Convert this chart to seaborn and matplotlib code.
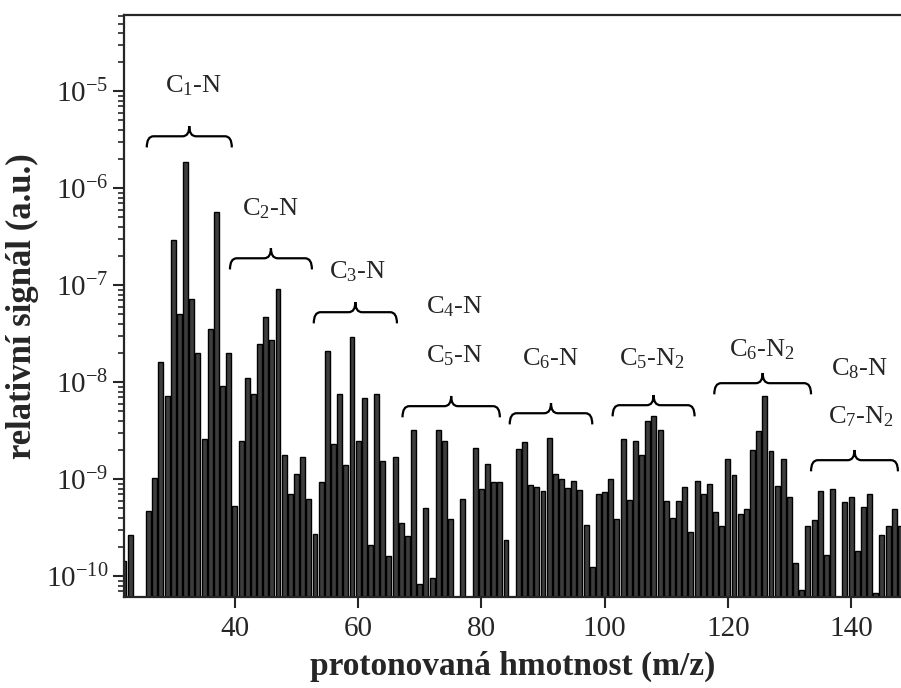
import numpy as np
import pandas as pd
import matplotlib
matplotlib.use('Agg')
import matplotlib.pyplot as plt
from matplotlib.path import Path
from matplotlib.patches import PathPatch
from matplotlib.ticker import FixedLocator, LogLocator, NullFormatter, MultipleLocator
import seaborn as sns

# m/z values and measured relative signal (nan = no bar)
mz = list(range(22, 149))
signal = [
    1.44e-10, 2.65e-10, np.nan, np.nan, 4.7e-10, 1.04e-9, 1.6e-8, 7.2e-9,      # 22-29
    2.9e-7, 5.1e-8, 1.85e-6, 7.2e-8, 2.0e-8, 2.6e-9, 3.5e-8, 5.7e-7,            # 30-37
    9.2e-9, 2.0e-8, 5.3e-10, 2.5e-9, 1.1e-8, 7.6e-9, 2.5e-8, 4.7e-8,            # 38-45
    2.75e-8, 9.2e-8, 1.77e-9, 7.0e-10, 1.13e-9, 1.7e-9, 6.3e-10, 2.75e-10,      # 46-53
    9.4e-10, 2.09e-8, 2.3e-9, 7.5e-9, 1.4e-9, 2.9e-8, 2.5e-9, 6.9e-9,           # 54-61
    2.1e-10, 7.5e-9, 1.55e-9, 1.63e-10, 1.7e-9, 3.5e-10, 2.6e-10, 3.25e-9,      # 62-69
    8.3e-11, 5.0e-10, 9.5e-11, 3.2e-9, 2.5e-9, 3.9e-10, np.nan, 6.2e-10,        # 70-77
    np.nan, 2.1e-9, 7.9e-10, 1.45e-9, 9.3e-10, 9.3e-10, 2.35e-10, np.nan,       # 78-85
    2.05e-9, 2.4e-9, 8.8e-10, 8.3e-10, 7.5e-10, 2.67e-9, 1.13e-9, 1.0e-9,       # 86-93
    8.2e-10, 9.5e-10, 7.7e-10, 3.4e-10, 1.23e-10, 7.1e-10, 7.3e-10, 1.0e-9,     # 94-101
    3.9e-10, 2.6e-9, 6.1e-10, 2.45e-9, 1.78e-9, 4.0e-9, 4.5e-9, 3.25e-9,        # 102-109
    6.0e-10, 4.0e-10, 5.9e-10, 8.3e-10, 2.85e-10, 9.5e-10, 7.1e-10, 9.0e-10,    # 110-117
    4.6e-10, 3.3e-10, 1.63e-9, 1.1e-9, 4.4e-10, 4.9e-10, 2.0e-9, 3.15e-9,       # 118-125
    7.2e-9, 1.93e-9, 8.5e-10, 1.6e-9, 6.6e-10, 1.37e-10, 7.2e-11, 3.3e-10,      # 126-133
    3.8e-10, 7.6e-10, 1.64e-10, 7.9e-10, np.nan, 5.8e-10, 6.5e-10, 1.8e-10,     # 134-141
    5.2e-10, 7.0e-10, 6.7e-11, 2.67e-10, 3.3e-10, 4.9e-10, 3.3e-10,             # 142-148
]

# labelled decades on the y axis
y_decades = [1e-10, 1e-9, 1e-8, 1e-7, 1e-6, 1e-5]

# group labels (text, x, log10 of baseline y)
group_labels = [
    ("C$\\mathregular{_1}$-N", 33.2, -5.01),
    ("C$\\mathregular{_2}$-N", 45.7, -6.28),
    ("C$\\mathregular{_3}$-N", 59.9, -6.93),
    ("C$\\mathregular{_4}$-N", 75.7, -7.29),
    ("C$\\mathregular{_5}$-N", 75.7, -7.80),
    ("C$\\mathregular{_6}$-N", 91.2, -7.83),
    ("C$\\mathregular{_5}$-N$\\mathregular{_2}$", 107.7, -7.83),
    ("C$\\mathregular{_6}$-N$\\mathregular{_2}$", 125.6, -7.73),
    ("C$\\mathregular{_8}$-N", 141.3, -7.93),
    ("C$\\mathregular{_7}$-N$\\mathregular{_2}$", 141.6, -8.42),
]
brace_x1 = [25.7, 39.2, 52.8, 67.2, 84.6, 101.3, 117.8, 133.5]
brace_x2 = [39.5, 52.5, 66.3, 83.0, 98.0, 114.6, 133.5, 147.6]
brace_y = [-5.464, -6.722, -7.278, -8.247, -8.32, -8.237, -8.01, -8.804]

df = pd.DataFrame({"mz": mz, "signal": signal}).dropna()

sns.set_style("ticks")
plt.rcParams['font.family'] = ['Liberation Serif', 'DejaVu Serif']
plt.rcParams['mathtext.fontset'] = 'custom'
plt.rcParams['mathtext.rm'] = 'Liberation Serif'
plt.rcParams['mathtext.it'] = 'Liberation Serif:italic'
plt.rcParams['mathtext.bf'] = 'Liberation Serif:bold'

fig = plt.figure(figsize=(9.01, 6.88), dpi=100)
ax = fig.add_axes([0.1376, 0.1323, 0.8624, 0.8457])

sns.barplot(data=df, x="mz", y="signal", native_scale=True, color="#3d3d3d",
            saturation=1, edgecolor="black", linewidth=1.0, width=0.8,
            errorbar=None, ax=ax)

ax.set_yscale('log')
ax.set_ylim(6.1e-11, 6.1e-5)
ax.set_xlim(22.0, 148.1)

ax.yaxis.set_major_locator(FixedLocator(y_decades))
ax.yaxis.set_minor_locator(LogLocator(base=10, subs=np.arange(2, 10), numticks=20))
ax.yaxis.set_minor_formatter(NullFormatter())
ax.xaxis.set_major_locator(MultipleLocator(20))

ax.tick_params(axis='both', which='major', direction='out', length=8, width=1.5,
               labelsize=21)
ax.tick_params(axis='x', which='major', pad=6)
ax.tick_params(axis='y', which='minor', direction='out', length=4, width=1.2)
ax.tick_params(axis='x', which='minor', bottom=False)

for side in ['left', 'bottom', 'top']:
    ax.spines[side].set_linewidth(1.6)
ax.spines['right'].set_visible(False)

ax.set_xlabel("protonovaná hmotnost (m/z)", fontsize=24, fontweight='bold', labelpad=6)
ax.set_ylabel("relativní signál (a.u.)", fontsize=25, fontweight='bold', labelpad=5)


def brace(ax, x1, x2, ly, up=0.105, down=0.115, r=1.1):
    xc = (x1 + x2) / 2
    yl, yt, ye = 10 ** ly, 10 ** (ly + up), 10 ** (ly - down)
    verts = [(x1, ye), (x1, yl), (x1 + r, yl),
             (xc - r, yl), (xc, yl), (xc, yt),
             (xc, yl), (xc + r, yl),
             (x2 - r, yl), (x2, yl), (x2, ye)]
    codes = [Path.MOVETO, Path.CURVE3, Path.CURVE3,
             Path.LINETO, Path.CURVE3, Path.CURVE3,
             Path.CURVE3, Path.CURVE3,
             Path.LINETO, Path.CURVE3, Path.CURVE3]
    ax.add_patch(PathPatch(Path(verts, codes), fill=False, lw=1.6,
                           edgecolor='black', clip_on=False))


for x1, x2, ly in zip(brace_x1, brace_x2, brace_y):
    brace(ax, x1, x2, ly)

for txt, x, ly in group_labels:
    ax.text(x, 10 ** ly, txt, fontsize=19, ha='center', va='baseline')

fig.savefig("out.png", dpi=100)
